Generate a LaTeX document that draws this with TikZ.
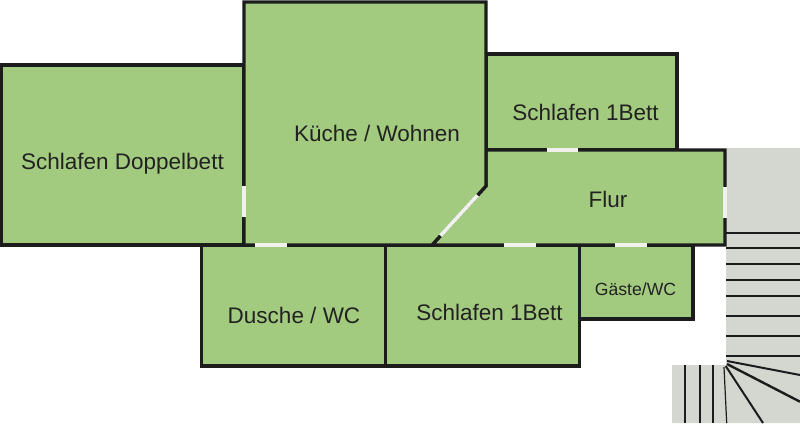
\documentclass[tikz,border=0pt]{standalone}
\usepackage{fontspec}
\setmainfont{Liberation Sans}
\definecolor{roomgreen}{HTML}{A3CB7F}
\definecolor{stairgray}{HTML}{D4D7D0}
\definecolor{wallblack}{HTML}{1C1C1C}
\definecolor{labelgray}{HTML}{222222}
\definecolor{doorwhite}{HTML}{F0F0EC}
\tikzset{
  room/.style={fill=roomgreen,draw=wallblack,line width=3.3pt,line join=miter},
  door/.style={draw=doorwhite,line width=3.8pt},
  tread/.style={draw=wallblack,line width=2pt},
  roomlabel/.style={text=labelgray,font=\fontsize{22.5}{26}\selectfont,inner sep=0pt},
  smalllabel/.style={text=labelgray,font=\fontsize{17.6}{20}\selectfont,inner sep=0pt}
}
\begin{document}
\begin{tikzpicture}[x=1pt,y=-1pt]
\useasboundingbox (0,0) rectangle (800,423);
\fill[white] (0,0) rectangle (800,423);
% stairs
\fill[stairgray] (726,148) -- (800,148) -- (800,423) -- (672,423) -- (672,365) -- (726,365) -- cycle;
\foreach \y in {232.7,248.3,263.7,279.7,296.3,316,335.7,355.7}
  \draw[tread] (726,\y) -- (800,\y);
\foreach \x in {685.3,700.3,712.7}
  \draw[tread] (\x,365) -- (\x,423);
\draw[tread] (727,361) -- (800,375);
\draw[tread,line width=2.4pt] (727,364) -- (800,401.7);
\draw[tread] (725.7,366) -- (763,423);
\draw[tread,line width=1.2pt] (724,367) -- (726.7,423);
% rooms
\draw[room] (1.5,65) rectangle (244,245);
\draw[room] (201.5,245) rectangle (385.5,366);
\draw[room] (385.5,245) rectangle (579.5,366);
\draw[room,line width=3.6pt] (579.5,245) rectangle (693,319);
\draw[room] (486,54) rectangle (677,150);
\draw[room] (486,150) -- (725,150) -- (725,245) -- (432,245) -- (486,186) -- cycle;
\draw[room] (244,245) -- (244,2) -- (486,2) -- (486,186) -- (432,245) -- cycle;
% doors
\draw[door] (244,185.7) -- (244,217);
\draw[door] (255,245) -- (287,245);
\draw[door] (477.5,195.3) -- (440.5,235.7);
\draw[door] (546.7,150) -- (578,150);
\draw[door] (504,245) -- (536,245);
\draw[door] (614.7,245) -- (646.7,245);
\draw[door] (725,186.7) -- (725,218.3);
% labels
\node[roomlabel] (doppel) at (122.5,164) {Schlafen Doppelbett};
\node[roomlabel] (kueche) at (377,133) {Küche / Wohnen};
\node[roomlabel] (einsoben) at (585.5,112) {Schlafen 1Bett};
\node[roomlabel] (flur) at (608,199) {Flur};
\node[roomlabel] (dusche) at (294,315) {Dusche / WC};
\node[roomlabel] (einsunten) at (489.5,312) {Schlafen 1Bett};
\node[smalllabel] (gaeste) at (635.5,289) {Gäste/WC};
\end{tikzpicture}
\end{document}
